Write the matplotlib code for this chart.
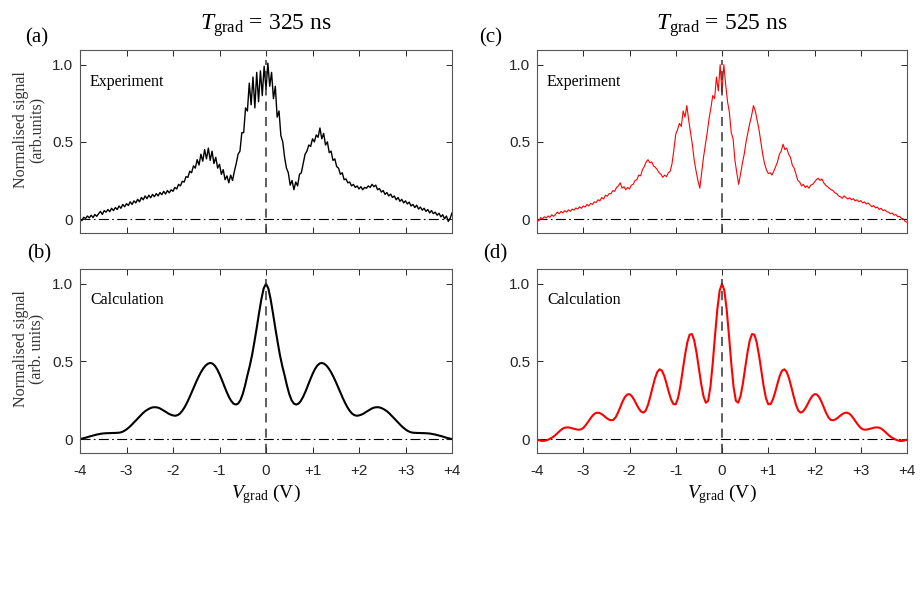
import numpy as np
import matplotlib
matplotlib.use('Agg')
import matplotlib.pyplot as plt

plt.rcParams['font.family'] = 'Liberation Serif'
plt.rcParams['mathtext.fontset'] = 'custom'
plt.rcParams['mathtext.rm'] = 'Liberation Serif'
plt.rcParams['mathtext.it'] = 'Liberation Serif:italic'

# ---- data ----
v_exp = np.round(np.arange(201) * 0.04 - 4, 2)
v_calc = np.round(np.arange(161) * 0.05 - 4, 2)

# (a) experiment, T_grad = 325 ns
exp_325 = [
    0.005, -0.010, 0.012, 0.004, 0.020, 0.008, 0.025, 0.010, 0.030, 0.018,
    0.035, 0.050, 0.030, 0.055, 0.045, 0.062, 0.048, 0.070, 0.055, 0.075,
    0.062, 0.085, 0.070, 0.095, 0.080, 0.100, 0.088, 0.112, 0.095, 0.118,
    0.105, 0.128, 0.112, 0.140, 0.125, 0.150, 0.132, 0.155, 0.138, 0.160,
    0.145, 0.165, 0.150, 0.172, 0.158, 0.180, 0.162, 0.185, 0.170, 0.190,
    0.180, 0.205, 0.195, 0.225, 0.215, 0.245, 0.240, 0.275, 0.270, 0.310,
    0.300, 0.345, 0.330, 0.385, 0.350, 0.420, 0.375, 0.450, 0.390, 0.460,
    0.380, 0.440, 0.360, 0.400, 0.330, 0.355, 0.290, 0.320, 0.255, 0.280,
    0.235, 0.285, 0.250, 0.310, 0.360, 0.420, 0.440, 0.560, 0.560, 0.720,
    0.700, 0.880, 0.740, 0.920, 0.720, 0.950, 0.760, 0.960, 0.800, 0.990,
    0.840, 1.010, 0.860, 0.950, 0.780, 0.860, 0.660, 0.700, 0.540, 0.500,
    0.400, 0.330, 0.300, 0.220, 0.250, 0.190, 0.240, 0.215, 0.290, 0.300,
    0.360, 0.420, 0.440, 0.480, 0.470, 0.520, 0.500, 0.545, 0.530, 0.590,
    0.520, 0.555, 0.480, 0.500, 0.430, 0.440, 0.380, 0.390, 0.340, 0.330,
    0.290, 0.300, 0.255, 0.260, 0.235, 0.240, 0.215, 0.225, 0.205, 0.215,
    0.195, 0.210, 0.190, 0.205, 0.200, 0.215, 0.205, 0.225, 0.210, 0.220,
    0.190, 0.198, 0.175, 0.185, 0.160, 0.172, 0.150, 0.162, 0.140, 0.150,
    0.125, 0.140, 0.115, 0.128, 0.105, 0.118, 0.098, 0.110, 0.085, 0.095,
    0.075, 0.090, 0.065, 0.078, 0.058, 0.070, 0.050, 0.062, 0.040, 0.055,
    0.035, 0.045, 0.025, 0.038, 0.015, 0.028, 0.002, 0.020, -0.015, 0.005,
    0.040,
]

# (c) experiment, T_grad = 525 ns
exp_525 = [
    0.000, -0.012, 0.010, 0.002, 0.015, 0.008, 0.020, 0.012, 0.028, 0.018,
    0.030, 0.045, 0.035, 0.050, 0.040, 0.055, 0.045, 0.060, 0.050, 0.065,
    0.058, 0.072, 0.065, 0.080, 0.070, 0.085, 0.078, 0.095, 0.085, 0.102,
    0.095, 0.112, 0.108, 0.125, 0.118, 0.140, 0.130, 0.155, 0.148, 0.165,
    0.165, 0.185, 0.180, 0.205, 0.215, 0.235, 0.200, 0.210, 0.190, 0.205,
    0.195, 0.220, 0.225, 0.250, 0.255, 0.285, 0.280, 0.320, 0.340, 0.370,
    0.385, 0.365, 0.370, 0.345, 0.335, 0.320, 0.300, 0.290, 0.270, 0.285,
    0.275, 0.300, 0.310, 0.360, 0.450, 0.550, 0.580, 0.620, 0.600, 0.700,
    0.660, 0.735, 0.640, 0.560, 0.480, 0.380, 0.310, 0.250, 0.200, 0.300,
    0.400, 0.480, 0.560, 0.650, 0.720, 0.800, 0.780, 0.920, 0.830, 1.000,
    0.820, 1.000, 0.870, 0.760, 0.690, 0.560, 0.520, 0.380, 0.300, 0.225,
    0.290, 0.360, 0.420, 0.500, 0.560, 0.620, 0.670, 0.735, 0.700, 0.640,
    0.580, 0.500, 0.420, 0.360, 0.320, 0.295, 0.300, 0.285, 0.310, 0.340,
    0.370, 0.420, 0.440, 0.485, 0.450, 0.460, 0.420, 0.400, 0.350, 0.330,
    0.290, 0.250, 0.240, 0.215, 0.225, 0.205, 0.215, 0.200, 0.220, 0.225,
    0.240, 0.255, 0.265, 0.250, 0.260, 0.235, 0.220, 0.210, 0.200, 0.190,
    0.185, 0.170, 0.165, 0.150, 0.145, 0.135, 0.150, 0.140, 0.130, 0.138,
    0.125, 0.132, 0.118, 0.125, 0.112, 0.120, 0.105, 0.112, 0.098, 0.105,
    0.092, 0.080, 0.088, 0.072, 0.078, 0.062, 0.070, 0.055, 0.060, 0.048,
    0.045, 0.035, 0.040, 0.025, 0.030, 0.015, 0.018, 0.005, 0.002, -0.015,
    -0.020,
]

# calculations are symmetric: values from V = 0 to +4 (step 0.05)
calc_325_half = [
    1.000, 0.970, 0.900, 0.810, 0.715, 0.625, 0.540, 0.470, 0.410, 0.345,
    0.290, 0.250, 0.228, 0.222, 0.228, 0.246, 0.273, 0.306, 0.344, 0.382,
    0.418, 0.449, 0.472, 0.486, 0.490, 0.485, 0.473, 0.454, 0.430, 0.401,
    0.369, 0.334, 0.299, 0.265, 0.233, 0.205, 0.182, 0.164, 0.154, 0.150,
    0.152, 0.157, 0.164, 0.174, 0.183, 0.192, 0.200, 0.204, 0.205, 0.203,
    0.197, 0.189, 0.179, 0.166, 0.151, 0.135, 0.119, 0.103, 0.088, 0.074,
    0.062, 0.052, 0.045, 0.041, 0.040, 0.039, 0.039, 0.038, 0.038, 0.037,
    0.036, 0.034, 0.031, 0.028, 0.024, 0.020, 0.016, 0.011, 0.007, 0.003,
    0.000,
]
calc_525_half = [
    1.000, 0.957, 0.838, 0.670, 0.489, 0.336, 0.246, 0.234, 0.275, 0.355,
    0.455, 0.555, 0.635, 0.676, 0.672, 0.623, 0.540, 0.440, 0.341, 0.264,
    0.224, 0.225, 0.254, 0.302, 0.357, 0.408, 0.441, 0.449, 0.431, 0.390,
    0.334, 0.274, 0.220, 0.183, 0.170, 0.177, 0.197, 0.224, 0.253, 0.276,
    0.289, 0.287, 0.270, 0.241, 0.205, 0.169, 0.140, 0.123, 0.121, 0.126,
    0.136, 0.149, 0.160, 0.168, 0.170, 0.164, 0.150, 0.130, 0.108, 0.088,
    0.071, 0.062, 0.060, 0.062, 0.066, 0.070, 0.074, 0.075, 0.073, 0.066,
    0.054, 0.040, 0.026, 0.014, 0.005, -0.003, -0.009, -0.012, -0.012, -0.009,
    -0.005,
]
calc_325 = calc_325_half[::-1] + calc_325_half[1:]
calc_525 = calc_525_half[::-1] + calc_525_half[1:]

x_ticks = [-4, -3, -2, -1, 0, 1, 2, 3, 4]
x_ticklabels = ['-4', '-3', '-2', '-1', '0', '+1', '+2', '+3', '+4']
y_ticks = [0, 0.5, 1.0]
y_ticklabels = ['0', '0.5', '1.0']
titles = [r'$T_{\rm grad}$ = 325 ns', r'$T_{\rm grad}$ = 525 ns']

# ---- figure ----
W, H = 922, 611
fig = plt.figure(figsize=(W / 100, H / 100), dpi=100)


def px_axes(x0, y0, x1, y1):
    return fig.add_axes([x0 / W, 1 - y1 / H, (x1 - x0) / W, (y1 - y0) / H])


ax_a = px_axes(80, 50, 452, 233)
ax_b = px_axes(80, 269, 452, 453)
ax_c = px_axes(537, 50, 907, 233)
ax_d = px_axes(537, 269, 907, 453)

frame_col = '#262626'
for ax in (ax_a, ax_b, ax_c, ax_d):
    ax.set_xlim(-4, 4)
    ax.set_ylim(-0.09, 1.095)
    ax.set_xticks(x_ticks)
    ax.set_yticks(y_ticks)
    ax.set_yticklabels(y_ticklabels)
    ax.tick_params(direction='in', length=4, width=0.7, top=True, right=True,
                   colors=frame_col, labelsize=11, pad=5)
    for lab in ax.get_xticklabels() + ax.get_yticklabels():
        lab.set_family('Liberation Sans')
    for s in ax.spines.values():
        s.set_color('#555555')
        s.set_linewidth(0.8)
    ax.axhline(0, color='k', lw=0.8, ls=(0, (9, 3, 1.5, 3)), zorder=1)
    ax.vlines(0, -0.09, 1.03, color='#333333', lw=1.1, ls=(0, (6, 4)), zorder=3)

for ax in (ax_a, ax_c):
    ax.set_xticklabels([])
for ax in (ax_b, ax_d):
    ax.set_xticklabels(x_ticklabels)
    ax.tick_params(axis='x', pad=8)
    for lab in ax.get_xticklabels():
        lab.set_family('Liberation Sans')
    ax.set_xlabel(r'$V_{\rm grad}$ (V)', fontsize=14)
    ax.xaxis.set_label_coords(0.5, -0.16)

ax_a.plot(v_exp, exp_325, color='k', lw=1.0, zorder=2)
ax_c.plot(v_exp, exp_525, color='red', lw=0.8, zorder=2)
ax_b.plot(v_calc, calc_325, color='k', lw=1.5, zorder=2)
ax_d.plot(v_calc, calc_525, color='red', lw=1.5, zorder=2)

for ax in (ax_a, ax_c):
    ax.text(0.027, 0.827, 'Experiment', transform=ax.transAxes,
            fontsize=11.5, va='center', ha='left')
for ax in (ax_b, ax_d):
    ax.text(0.027, 0.83, 'Calculation', transform=ax.transAxes,
            fontsize=11.5, va='center', ha='left')

ax_a.set_ylabel('Normalised signal\n(arb.units)', fontsize=11.5, linespacing=1.0,
                color='#333333')
ax_b.set_ylabel('Normalised signal\n(arb. units)', fontsize=11.5, linespacing=1.0,
                color='#333333')
for ax in (ax_a, ax_b):
    ax.yaxis.set_label_coords(-0.095, 0.565)

# titles and panel letters
fig.text(266 / W, 1 - 30 / H, titles[0], fontsize=17, ha='center', va='baseline')
fig.text(722 / W, 1 - 30 / H, titles[1], fontsize=17, ha='center', va='baseline')
for lab, (px, py) in zip(['(a)', '(b)', '(c)', '(d)'],
                         [(37, 38), (39, 254), (491, 38), (495, 254)]):
    fig.text(px / W, 1 - py / H, lab, fontsize=15, ha='center', va='center')

fig.savefig('out.png', dpi=100)
